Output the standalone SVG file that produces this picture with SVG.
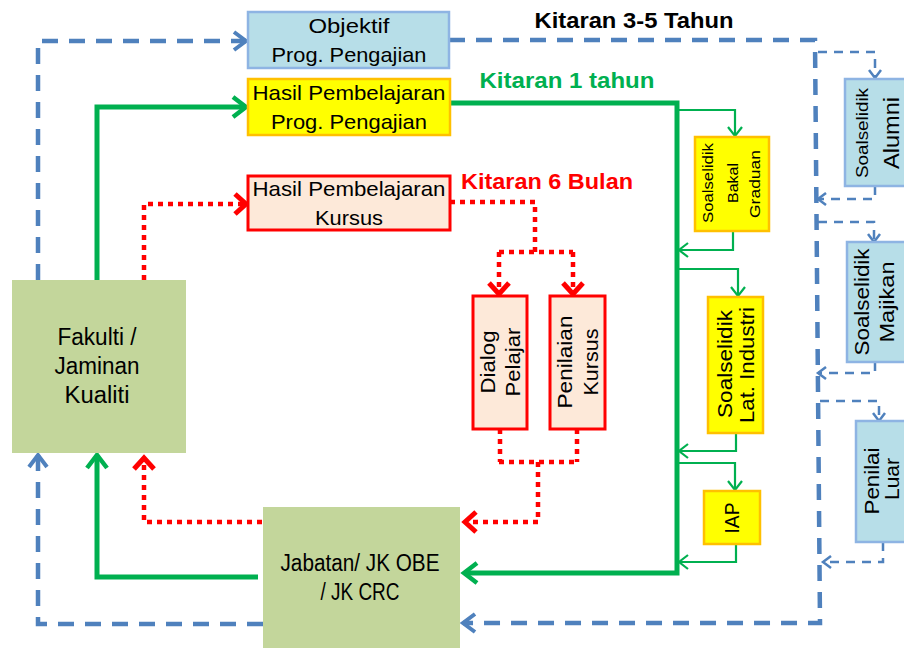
<svg xmlns="http://www.w3.org/2000/svg" width="904" height="648" viewBox="0 0 904 648">
<style>
text{font-family:"Liberation Sans Narrow","Liberation Sans",Arial,sans-serif;fill:#000}
.t{font-size:21px;text-anchor:middle}
.lbl{font-size:22px;font-weight:bold;text-anchor:middle}
.blue{fill:#b7dee8;stroke:#8eb4e3;stroke-width:2.5}
.yel{fill:#ffff00;stroke:#ffc000;stroke-width:2.5}
.pink{fill:#fde9d9;stroke:#ff0000;stroke-width:3}
.grn{fill:#c3d69b}
.bd{fill:none;stroke:#4f81bd;stroke-width:4.5;stroke-dasharray:16 11}
.bds{fill:none;stroke:#4f81bd;stroke-width:2.5;stroke-dasharray:9 7}
.gt{fill:none;stroke:#00b050;stroke-width:5}
.gs{fill:none;stroke:#00b050;stroke-width:2.2}
.rd{fill:none;stroke:#ff0000;stroke-width:4.5;stroke-dasharray:5 5}
</style>
<defs>
<marker id="aB" viewBox="-16 -12 18 24" refX="0" refY="0" markerWidth="18" markerHeight="24" markerUnits="userSpaceOnUse" orient="auto" overflow="visible"><path d="M-12,-9 L0,0 L-12,9" fill="none" stroke="#4f81bd" stroke-width="4"/></marker>
<marker id="aBs" viewBox="-12 -8 14 16" refX="0" refY="0" markerWidth="14" markerHeight="16" markerUnits="userSpaceOnUse" orient="auto" overflow="visible"><path d="M-8,-6 L0,0 L-8,6" fill="none" stroke="#4f81bd" stroke-width="2.5"/></marker>
<marker id="aG" viewBox="-16 -12 18 24" refX="0" refY="0" markerWidth="18" markerHeight="24" markerUnits="userSpaceOnUse" orient="auto" overflow="visible"><path d="M-13,-10 L0,0 L-13,10" fill="none" stroke="#00b050" stroke-width="4.5"/></marker>
<marker id="aGs" viewBox="-12 -8 14 16" refX="0" refY="0" markerWidth="14" markerHeight="16" markerUnits="userSpaceOnUse" orient="auto" overflow="visible"><path d="M-9,-7 L0,0 L-9,7" fill="none" stroke="#00b050" stroke-width="2.2"/></marker>
<marker id="aR" viewBox="-16 -12 18 24" refX="0" refY="0" markerWidth="18" markerHeight="24" markerUnits="userSpaceOnUse" orient="auto" overflow="visible"><path d="M-11,-10 L0,0 L-11,10" fill="none" stroke="#ff0000" stroke-width="5"/></marker>
</defs>

<g id="connectors">
<path class="bd" d="M38,280 L38,41 L246,41" marker-end="url(#aB)"/>
<path class="bd" d="M449,40 L815,40 L820,623 L463,623" marker-end="url(#aB)"/>
<path class="bd" d="M263,624 L38,624 L38,455" marker-end="url(#aB)"/>
<path class="bds" d="M818,52 L875,52 L875,78" marker-end="url(#aBs)"/>
<path class="bds" d="M875,186 L875,199 L818,199" marker-end="url(#aBs)"/>
<path class="bds" d="M818,222 L874,222 L874,242" marker-end="url(#aBs)"/>
<path class="bds" d="M875,362 L875,373 L818,373" marker-end="url(#aBs)"/>
<path class="bds" d="M820,401 L879,401 L879,421" marker-end="url(#aBs)"/>
<path class="bds" d="M883,542 L883,562 L823,562" marker-end="url(#aBs)"/>
<path class="gt" d="M97,280 L97,107 L246,107" marker-end="url(#aG)"/>
<path class="gt" d="M450,103 L677,103 L677,573 L464,573" marker-end="url(#aG)"/>
<path class="gt" d="M258,577 L97,577 L97,455" marker-end="url(#aG)"/>
<path class="gs" d="M677,110 L735,110 L735,136" marker-end="url(#aGs)"/>
<path class="gs" d="M733,231 L733,250 L679,250" marker-end="url(#aGs)"/>
<path class="gs" d="M677,269 L738,269 L738,296" marker-end="url(#aGs)"/>
<path class="gs" d="M736,433 L736,451 L679,451" marker-end="url(#aGs)"/>
<path class="gs" d="M677,463 L735,463 L735,490" marker-end="url(#aGs)"/>
<path class="gs" d="M736,544 L736,562 L679,562" marker-end="url(#aGs)"/>
<path class="rd" d="M144,280 L144,204 L246,204" marker-end="url(#aR)"/>
<path class="rd" d="M450,202 L535,202 L535,252"/>
<path class="rd" d="M499,252 L573,252"/>
<path class="rd" d="M499,252 L499,294" marker-end="url(#aR)"/>
<path class="rd" d="M573,252 L573,294" marker-end="url(#aR)"/>
<path class="rd" d="M500,429 L500,462"/>
<path class="rd" d="M577,429 L577,462"/>
<path class="rd" d="M499,462 L578,462"/>
<path class="rd" d="M538,462 L538,522 L465,522" marker-end="url(#aR)"/>
<path class="rd" d="M262,522 L144,522 L144,458" marker-end="url(#aR)"/>
</g>

<g id="labels">
<text class="lbl" x="634" y="28" textLength="199" lengthAdjust="spacingAndGlyphs">Kitaran 3-5 Tahun</text>
<text class="lbl" x="567" y="88" textLength="175" lengthAdjust="spacingAndGlyphs" style="fill:#00b050">Kitaran 1 tahun</text>
<text class="lbl" x="547" y="189" textLength="172" lengthAdjust="spacingAndGlyphs" style="fill:#ff0000">Kitaran 6 Bulan</text>
</g>

<g id="objektif">
<rect class="blue" x="248" y="12" width="201" height="56"/>
<text class="t" x="349" y="33" textLength="81" lengthAdjust="spacingAndGlyphs">Objektif</text>
<text class="t" x="349" y="62" textLength="155" lengthAdjust="spacingAndGlyphs">Prog. Pengajian</text>
</g>
<g id="hasil-prog">
<rect class="yel" x="248" y="79" width="202" height="56"/>
<text class="t" x="349" y="100" textLength="193" lengthAdjust="spacingAndGlyphs">Hasil Pembelajaran</text>
<text class="t" x="349" y="129" textLength="156" lengthAdjust="spacingAndGlyphs">Prog. Pengajian</text>
</g>
<g id="hasil-kursus">
<rect class="pink" x="248" y="176" width="202" height="54"/>
<text class="t" x="349" y="196" textLength="193" lengthAdjust="spacingAndGlyphs">Hasil Pembelajaran</text>
<text class="t" x="349" y="225" textLength="68" lengthAdjust="spacingAndGlyphs">Kursus</text>
</g>
<g id="fakulti">
<rect class="grn" x="12" y="280" width="174" height="173"/>
<text class="t" x="97" y="345" style="font-size:23px" textLength="79" lengthAdjust="spacingAndGlyphs">Fakulti /</text>
<text class="t" x="97" y="374" style="font-size:23px" textLength="85" lengthAdjust="spacingAndGlyphs">Jaminan</text>
<text class="t" x="97" y="403" style="font-size:23px" textLength="65" lengthAdjust="spacingAndGlyphs">Kualiti</text>
</g>
<g id="jabatan">
<rect class="grn" x="263" y="507" width="197" height="145"/>
<text class="t" x="360" y="571" style="font-size:23px" textLength="159" lengthAdjust="spacingAndGlyphs">Jabatan/ JK OBE</text>
<text class="t" x="360" y="600" style="font-size:23px" textLength="79" lengthAdjust="spacingAndGlyphs">/ JK CRC</text>
</g>
<g id="dialog">
<rect class="pink" x="473" y="296" width="54" height="133"/>
<text class="t" transform="translate(495,362) rotate(-90)" textLength="63" lengthAdjust="spacingAndGlyphs">Dialog</text>
<text class="t" transform="translate(520,362) rotate(-90)" textLength="69" lengthAdjust="spacingAndGlyphs">Pelajar</text>
</g>
<g id="penilaian">
<rect class="pink" x="550" y="296" width="55" height="133"/>
<text class="t" transform="translate(572,362) rotate(-90)" textLength="93" lengthAdjust="spacingAndGlyphs">Penilaian</text>
<text class="t" transform="translate(598,362) rotate(-90)" textLength="67" lengthAdjust="spacingAndGlyphs">Kursus</text>
</g>
<g id="bakal">
<rect class="yel" x="695" y="137" width="74" height="94"/>
<text class="t" style="font-size:15px" transform="translate(713,183) rotate(-90)" textLength="80" lengthAdjust="spacingAndGlyphs">Soalselidik</text>
<text class="t" style="font-size:15px" transform="translate(738,183) rotate(-90)" textLength="40" lengthAdjust="spacingAndGlyphs">Bakal</text>
<text class="t" style="font-size:15px" transform="translate(760,184) rotate(-90)" textLength="68" lengthAdjust="spacingAndGlyphs">Graduan</text>
</g>
<g id="latihan">
<rect class="yel" x="708" y="297" width="55" height="136"/>
<text class="t" transform="translate(732,364) rotate(-90)" textLength="108" lengthAdjust="spacingAndGlyphs">Soalselidik</text>
<text class="t" transform="translate(754,365) rotate(-90)" textLength="116" lengthAdjust="spacingAndGlyphs">Lat. Industri</text>
</g>
<g id="iap">
<rect class="yel" x="704" y="491" width="56" height="53"/>
<text class="t" transform="translate(739,518) rotate(-90)" textLength="31" lengthAdjust="spacingAndGlyphs">IAP</text>
</g>
<g id="alumni">
<rect class="blue" x="845" y="79" width="62" height="107"/>
<text class="t" style="font-size:17px" transform="translate(868,133) rotate(-90)" textLength="90" lengthAdjust="spacingAndGlyphs">Soalselidik</text>
<text class="t" style="font-size:22px" transform="translate(899,133) rotate(-90)" textLength="72" lengthAdjust="spacingAndGlyphs">Alumni</text>
</g>
<g id="majikan">
<rect class="blue" x="847" y="242" width="60" height="120"/>
<text class="t" transform="translate(869,302) rotate(-90)" textLength="107" lengthAdjust="spacingAndGlyphs">Soalselidik</text>
<text class="t" transform="translate(894,302) rotate(-90)" textLength="81" lengthAdjust="spacingAndGlyphs">Majikan</text>
</g>
<g id="penilai-luar">
<rect class="blue" x="856" y="421" width="52" height="121"/>
<text class="t" transform="translate(879,481) rotate(-90)" textLength="67" lengthAdjust="spacingAndGlyphs">Penilai</text>
<text class="t" style="font-size:20px" transform="translate(899,479) rotate(-90)" textLength="42" lengthAdjust="spacingAndGlyphs">Luar</text>
</g>
</svg>
